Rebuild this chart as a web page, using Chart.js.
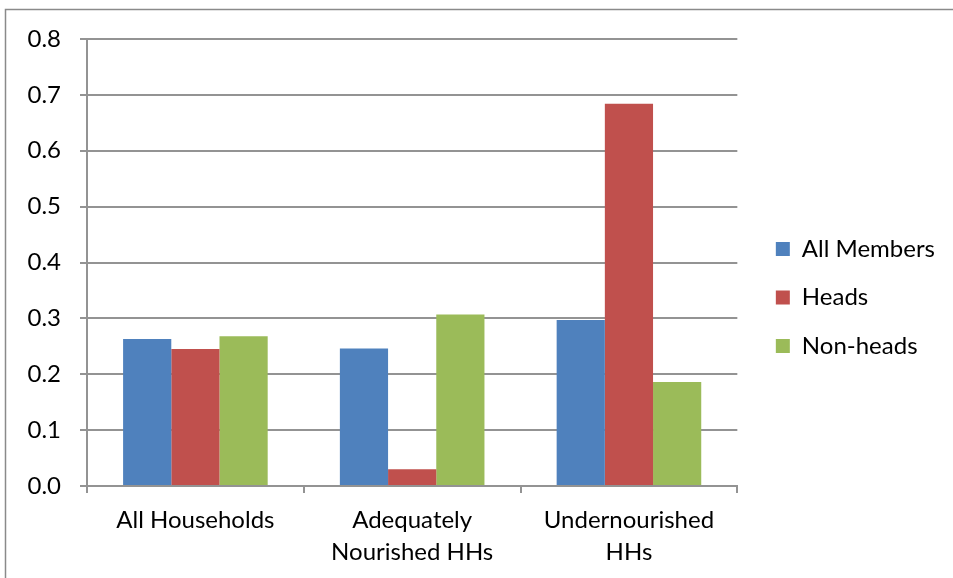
<!DOCTYPE html>
<html>
<head>
<meta charset="utf-8">
<script src="https://cdn.jsdelivr.net/npm/chart.js@4"></script>
<style>
  html, body { margin: 0; padding: 0; background: #ffffff; }
  #wrap { width: 953px; height: 578px; position: relative; }
</style>
</head>
<body>
<div id="wrap"><canvas id="c" width="953" height="578"></canvas></div>
<script>
const categories = [["All Households"], ["Adequately", "Nourished HHs"], ["Undernourished", "HHs"]];
const seriesNames = ["All Members", "Heads", "Non-heads"];
const allMembers = [0.263, 0.246, 0.297];
const heads = [0.245, 0.030, 0.684];
const nonHeads = [0.268, 0.307, 0.186];
const seriesColors = ["#4F81BD", "#C0504D", "#9BBB59"];
const yTicks = { min: 0, max: 0.8, step: 0.1 };

const FONT = "Lato, 'Open Sans', sans-serif";
const GRID = "#939393";

const frame = {
  id: 'frame',
  afterLayout(chart) {
    const lg = chart.legend;
    if (lg) {
      lg.left += 14; lg.right += 14;
      lg.top -= 6; lg.bottom -= 6;
    }
  },
  beforeDraw(chart) {
    const ctx = chart.ctx;
    ctx.save();
    ctx.fillStyle = '#ffffff';
    ctx.fillRect(0, 0, chart.width, chart.height);
    ctx.strokeStyle = '#8a8a8a';
    ctx.lineWidth = 1.5;
    ctx.strokeRect(5.5, 9.5, 1000, 700);
    ctx.restore();
  }
};

new Chart(document.getElementById('c'), {
  type: 'bar',
  data: {
    labels: categories,
    datasets: [
      { label: seriesNames[0], data: allMembers, backgroundColor: seriesColors[0] },
      { label: seriesNames[1], data: heads, backgroundColor: seriesColors[1] },
      { label: seriesNames[2], data: nonHeads, backgroundColor: seriesColors[2] }
    ]
  },
  options: {
    responsive: false,
    animation: false,
    layout: { padding: { left: 27, top: 39, right: 22, bottom: 10 } },
    datasets: { bar: { categoryPercentage: 0.667, barPercentage: 1.0 } },
    plugins: {
      legend: {
        position: 'right',
        labels: {
          font: { family: FONT, size: 24 },
          color: '#000',
          boxWidth: 14,
          boxHeight: 14,
          padding: 24.5
        }
      },
      tooltip: { enabled: false }
    },
    scales: {
      x: {
        afterFit(scale) { scale.height = 82; },
        grid: { drawOnChartArea: false, color: GRID, lineWidth: 2, tickLength: 7, offset: true },
        border: { color: GRID, width: 2 },
        ticks: { font: { family: FONT, size: 24, lineHeight: 1.333 }, color: '#000', padding: 11, maxRotation: 0, autoSkip: false }
      },
      y: {
        min: yTicks.min, max: yTicks.max,
        afterFit(scale) { scale.width = 60; },
        grid: { color: GRID, lineWidth: 2, tickLength: 7 },
        border: { color: GRID, width: 2 },
        ticks: {
          stepSize: yTicks.step,
          font: { family: FONT, size: 24 },
          color: '#000',
          padding: 19,
          callback: v => Number(v).toFixed(1)
        }
      }
    }
  },
  plugins: [frame]
});
</script>
</body>
</html>
